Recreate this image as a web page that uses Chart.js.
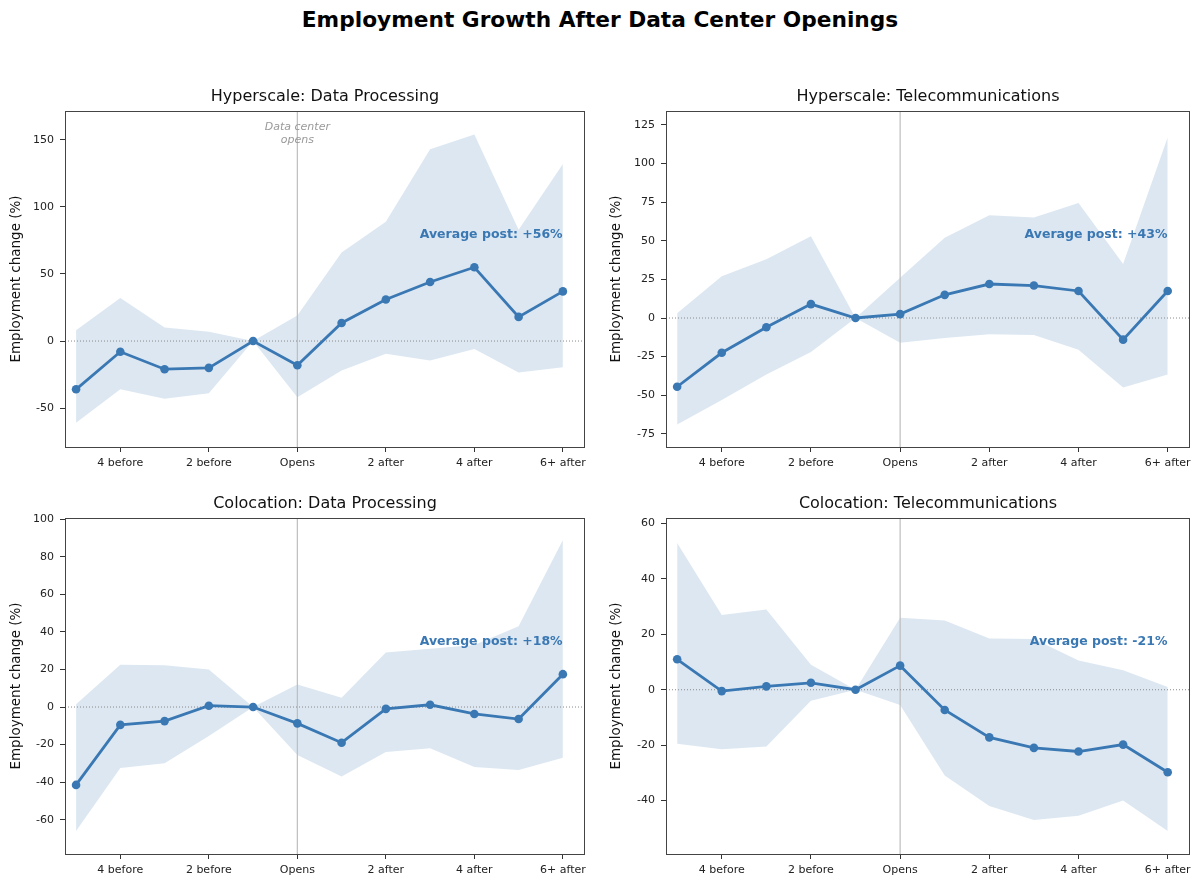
<!DOCTYPE html>
<html>
<head>
<meta charset="utf-8">
<script src="https://cdn.jsdelivr.net/npm/chart.js@4.4.1/dist/chart.umd.min.js"></script>
<style>
  body { margin: 0; background: #fff; }
  #page { position: relative; width: 1200px; height: 886px; background: #fff; font-family: 'DejaVu Sans', sans-serif; }
  #mainTitle { position: absolute; left: 0; top: 7px; width: 1200px; text-align: center; font-weight: bold; font-size: 21.7px; color: #000; }
  .panel { position: absolute; width: 600px; height: 400px; }
</style>
</head>
<body>
<div id="page">
  <div id="mainTitle">Employment Growth After Data Center Openings</div>
  <div class="panel" style="left:0;top:80px"><canvas id="c1"></canvas></div>
  <div class="panel" style="left:600px;top:80px"><canvas id="c2"></canvas></div>
  <div class="panel" style="left:0;top:487px"><canvas id="c3"></canvas></div>
  <div class="panel" style="left:600px;top:487px"><canvas id="c4"></canvas></div>
</div>
<script>
// event time: years relative to opening (-1 is the reference year)
const xSteps = [-5, -4, -3, -2, -1, 0, 1, 2, 3, 4, 5, 6];
const xTickVals = [-4, -2, 0, 2, 4, 6];
const xTickLabels = ['4 before', '2 before', 'Opens', '2 after', '4 after', '6+ after'];

// Hyperscale: Data Processing
const hyperDpMean = [-36, -8, -21, -20, 0, -18, 13.5, 31, 44, 55, 18, 37];
const hyperDpHigh = [8, 32, 10, 7, 0, 19, 66, 89, 143, 154, 83, 132];
const hyperDpLow  = [-61, -36, -43, -39, 0, -42, -22, -9.5, -14.5, -6, -23.5, -19.5];
const hyperDpTicks = [-50, 0, 50, 100, 150];

// Hyperscale: Telecommunications
const hyperTelMean = [-44.5, -22.5, -6, 9, 0, 2.5, 15, 22, 21, 17.5, -14, 17.5];
const hyperTelHigh = [3, 27, 38, 53, 0, 26, 52, 66.5, 65, 74.5, 35, 117];
const hyperTelLow  = [-69, -53, -36.5, -22, 0, -16, -13, -10.5, -11, -20.5, -45, -36.5];
const hyperTelTicks = [-75, -50, -25, 0, 25, 50, 75, 100, 125];

// Colocation: Data Processing
const coloDpMean = [-41.5, -9.5, -7.5, 0.7, 0, -8.7, -19, -1, 1.2, -3.7, -6.4, 17.5];
const coloDpHigh = [1.5, 22.5, 22.2, 20, 0, 12, 5, 29, 31, 33, 43, 89];
const coloDpLow  = [-66, -32.5, -30, -15.5, 0, -25.5, -37, -24, -22, -32, -33.5, -27];
const coloDpTicks = [-60, -40, -20, 0, 20, 40, 60, 80, 100];

// Colocation: Telecommunications
const coloTelMean = [11, -0.5, 1.2, 2.5, 0, 8.7, -7.3, -17.2, -21, -22.3, -19.8, -29.8];
const coloTelHigh = [53, 27, 29, 9, 0, 26, 25, 18.5, 18.3, 10.6, 7, 1];
const coloTelLow  = [-19.5, -21.5, -20.5, -4, 0, -5.5, -31, -42, -47, -45.5, -40, -51];
const coloTelTicks = [-40, -20, 0, 20, 40, 60];

const BLUE = '#3a78b4';
const BAND = 'rgba(70,130,180,0.19)';
Chart.defaults.font.family = "'DejaVu Sans', sans-serif";
Chart.defaults.color = '#222';

function pts(arr) {
  return xSteps.map((x, i) => ({ x: x, y: arr[i] }));
}

// reference lines, frame, titles and notes
const decor = {
  id: 'decor',
  afterDatasetDraw(chart, args, opts) {
    if (args.index !== 1) return;
    const ctx = chart.ctx, a = chart.chartArea;
    const x0 = chart.scales.x.getPixelForValue(0);
    const y0 = chart.scales.y.getPixelForValue(0);
    ctx.save();
    ctx.strokeStyle = '#bdbdbd';
    ctx.lineWidth = 1.2;
    ctx.beginPath();
    ctx.moveTo(x0, a.top); ctx.lineTo(x0, a.bottom);
    ctx.stroke();
    ctx.strokeStyle = '#8a8a8a';
    ctx.lineWidth = 1;
    ctx.setLineDash([1, 2]);
    ctx.beginPath();
    ctx.moveTo(a.left, y0); ctx.lineTo(a.right, y0);
    ctx.stroke();
    ctx.restore();
  },
  afterDraw(chart, args, opts) {
    const ctx = chart.ctx, a = chart.chartArea;
    ctx.save();
    ctx.strokeStyle = '#444';
    ctx.lineWidth = 1;
    ctx.strokeRect(a.left + 0.5, a.top + 0.5, a.right - a.left - 1, a.bottom - a.top);

    ctx.fillStyle = '#111';
    ctx.font = "16px 'DejaVu Sans'";
    ctx.textAlign = 'center';
    ctx.textBaseline = 'middle';
    ctx.fillText(opts.title, (a.left + a.right) / 2, a.top - 14);

    ctx.fillStyle = BLUE;
    ctx.font = "bold 12.5px 'DejaVu Sans'";
    ctx.textAlign = 'right';
    ctx.fillText(opts.avgText, a.left + 0.957 * (a.right - a.left), a.top + 0.369 * (a.bottom - a.top));

    if (opts.opensNote) {
      const x0 = chart.scales.x.getPixelForValue(0);
      ctx.fillStyle = '#9a9a9a';
      ctx.font = "italic 11px 'DejaVu Sans'";
      ctx.textAlign = 'center';
      ctx.fillText('Data center', x0, a.top + 16);
      ctx.fillText('opens', x0, a.top + 29);
    }
    ctx.restore();
  }
};

function makePanel(id, title, mean, low, high, yMin, yMax, yTicks, avgText, opensNote, leftW) {
  new Chart(document.getElementById(id), {
    type: 'line',
    data: {
      datasets: [
        { data: pts(mean), borderColor: BLUE, backgroundColor: BLUE, borderWidth: 2.8,
          pointRadius: 4.3, pointBorderWidth: 0, fill: false, tension: 0 },
        { data: pts(high), borderWidth: 0, pointRadius: 0, borderColor: 'transparent',
          backgroundColor: BAND, fill: '+1', tension: 0 },
        { data: pts(low), borderWidth: 0, pointRadius: 0, borderColor: 'transparent',
          fill: false, tension: 0 }
      ]
    },
    options: {
      responsive: true,
      maintainAspectRatio: false,
      animation: false,
      layout: { padding: { top: 31, right: 600 - leftW - (leftW === 65 ? 520 : 524), bottom: 0, left: 0 } },
      plugins: {
        legend: { display: false },
        tooltip: { enabled: false },
        decor: { title: title, avgText: avgText, opensNote: opensNote }
      },
      scales: {
        x: {
          type: 'linear', min: -5.25, max: 6.5,
          grid: { drawOnChartArea: false, tickLength: 5, tickColor: '#333', tickWidth: 1 },
          border: { display: false },
          ticks: {
            autoSkip: false, maxRotation: 0, padding: 5, color: '#222', font: { size: 11 },
            callback: (v) => xTickLabels[xTickVals.indexOf(v)]
          },
          afterBuildTicks: (s) => { s.ticks = xTickVals.map(v => ({ value: v })); },
          afterFit: (s) => { s.height = 33; }
        },
        y: {
          min: yMin, max: yMax,
          grid: { drawOnChartArea: false, tickLength: 5, tickColor: '#333', tickWidth: 1 },
          border: { display: false },
          ticks: { padding: 6, color: '#222', font: { size: 11 } },
          title: { display: true, text: 'Employment change (%)', color: '#111',
                   font: { size: 13.5 }, padding: { top: 8.5, bottom: 0 } },
          afterBuildTicks: (s) => { s.ticks = yTicks.map(v => ({ value: v })); },
          afterFit: (s) => { s.width = leftW; }
        }
      }
    },
    plugins: [decor]
  });
}

makePanel('c1', 'Hyperscale: Data Processing', hyperDpMean, hyperDpLow, hyperDpHigh,
  -79, 171.5, hyperDpTicks, 'Average post: +56%', true, 65);
makePanel('c2', 'Hyperscale: Telecommunications', hyperTelMean, hyperTelLow, hyperTelHigh,
  -83.5, 134, hyperTelTicks, 'Average post: +43%', false, 66);
makePanel('c3', 'Colocation: Data Processing', coloDpMean, coloDpLow, coloDpHigh,
  -78.3, 100.7, coloDpTicks, 'Average post: +18%', false, 65);
makePanel('c4', 'Colocation: Telecommunications', coloTelMean, coloTelLow, coloTelHigh,
  -59.3, 62, coloTelTicks, 'Average post: -21%', false, 66);
</script>
</body>
</html>
